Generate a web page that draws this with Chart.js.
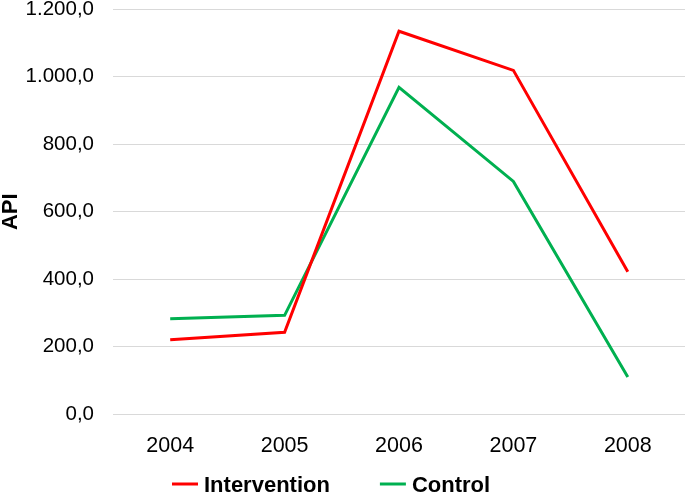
<!DOCTYPE html>
<html>
<head>
<meta charset="utf-8">
<script src="https://cdn.jsdelivr.net/npm/chart.js@4.4.1/dist/chart.umd.min.js"></script>
<style>
    html, body { margin: 0; padding: 0; background: #fff; }
    #wrap { width: 685px; height: 494px; }
</style>
</head>
<body>
<div id="wrap"><canvas id="chart"></canvas></div>
<script>
const years = ['2004', '2005', '2006', '2007', '2008'];
const intervention = [221, 243, 1135, 1019, 422];
const control = [283, 293, 969, 690, 110];
const seriesNames = ['Intervention', 'Control'];
const seriesColors = ['#FF0000', '#00B050'];

const FONT = '"Liberation Sans", Arial, sans-serif';

// 1.200,0 style numbers
function formatTick(value) {
    const parts = Number(value).toFixed(1).split('.');
    parts[0] = parts[0].replace(/\B(?=(\d{3})+(?!\d))/g, '.');
    return parts.join(',');
}

/**
 * Bottom legend drawn by hand so the spacing matches the original
 */
const bottomLegend = {
    id: 'bottomLegend',
    afterDraw(chart) {
        const ctx = chart.ctx;
        const y = 484;
        let x = 172;
        ctx.save();
        ctx.font = 'bold 22px ' + FONT;
        ctx.textBaseline = 'alphabetic';
        ctx.textAlign = 'left';
        chart.data.datasets.forEach(ds => {
            ctx.strokeStyle = ds.borderColor;
            ctx.lineWidth = 3;
            ctx.beginPath();
            ctx.moveTo(x, y);
            ctx.lineTo(x + 26, y);
            ctx.stroke();
            x += 32;
            ctx.fillStyle = '#000';
            ctx.fillText(ds.label, x, y + 8);
            x += ctx.measureText(ds.label).width + 50;
        });
        ctx.restore();
    }
};

Chart.defaults.font.family = FONT;
Chart.defaults.color = '#000';

new Chart(document.getElementById('chart'), {
    type: 'line',
    data: {
        labels: years,
        datasets: [
            {
                label: seriesNames[0],
                data: intervention,
                borderColor: seriesColors[0],
                backgroundColor: seriesColors[0],
                borderWidth: 3,
                pointRadius: 0,
                tension: 0
            },
            {
                label: seriesNames[1],
                data: control,
                borderColor: seriesColors[1],
                backgroundColor: seriesColors[1],
                borderWidth: 3,
                pointRadius: 0,
                tension: 0
            }
        ]
    },
    options: {
        responsive: true,
        maintainAspectRatio: false,
        animation: false,
        layout: { padding: { top: 0, right: 0, bottom: 35, left: 0 } },
        plugins: {
            tooltip: { enabled: false },
            legend: { display: false }
        },
        scales: {
            x: {
                offset: true,
                grid: { display: false, drawTicks: true, tickLength: 19, tickColor: 'rgba(0,0,0,0)' },
                border: { display: false },
                ticks: { padding: 0, font: { size: 21.5 } }
            },
            y: {
                min: 0,
                max: 1200,
                afterFit: function(scale) { scale.width = 113; },
                grid: { color: '#d9d9d9', drawTicks: true, tickLength: 22, tickColor: 'rgba(0,0,0,0)' },
                border: { display: false },
                ticks: {
                    stepSize: 200,
                    padding: -3,
                    font: { size: 20.5 },
                    callback: formatTick
                },
                title: {
                    display: true,
                    text: 'API',
                    font: { size: 22, weight: 'bold', lineHeight: 1 },
                    padding: 0
                }
            }
        }
    },
    plugins: [bottomLegend]
});
</script>
</body>
</html>
